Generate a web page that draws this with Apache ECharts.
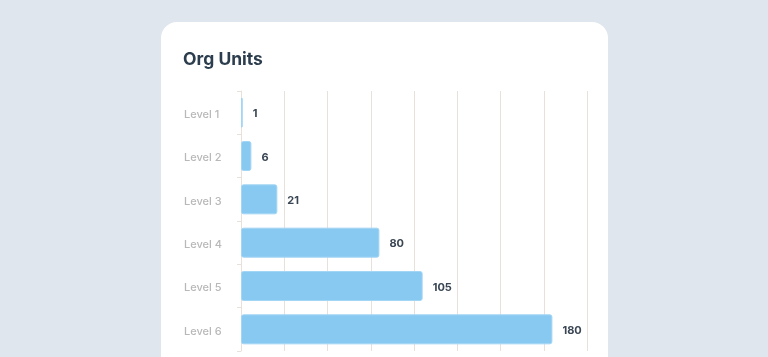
<!DOCTYPE html>
<html>
<head>
<meta charset="utf-8">
<script src="https://cdn.jsdelivr.net/npm/echarts@6/dist/echarts.min.js"></script>
<style>
  html, body { margin: 0; padding: 0; width: 768px; height: 357px; overflow: hidden; background: #dfe6ed; }
  #card { position: absolute; left: 161px; top: 22px; width: 447px; height: 360px; background: #ffffff; border-radius: 16px; }
  #chart { position: absolute; left: 0; top: 0; width: 447px; height: 345px; }
</style>
</head>
<body>
<div id="card"><div id="chart"></div></div>
<script>
const titleText = 'Org Units';
const categories = ['Level 1', 'Level 2', 'Level 3', 'Level 4', 'Level 5', 'Level 6'];
const values = [1, 6, 21, 80, 105, 180];
const xMin = 0, xMax = 200, xInterval = 25;

const chart = echarts.init(document.getElementById('chart'), null, { renderer: 'canvas' });
chart.setOption({
  animation: false,
  title: {
    text: titleText,
    left: 22, top: 29, padding: 0,
    textStyle: { fontFamily: 'Inter', fontSize: 17.5, fontWeight: 'bold', color: '#2c3d4d' }
  },
  grid: { left: 80, right: 21, top: 69, bottom: 16, containLabel: false },
  xAxis: {
    type: 'value', min: xMin, max: xMax, interval: xInterval,
    axisLabel: { show: false },
    axisLine: { show: false },
    axisTick: { show: false },
    splitLine: { show: true, lineStyle: { color: '#e8e0db', width: 1 } }
  },
  yAxis: {
    type: 'category', data: categories, inverse: true,
    axisLine: { show: true, lineStyle: { color: '#e8e0db', width: 1 } },
    axisTick: { show: true, length: 4, lineStyle: { color: '#e8e0db' } },
    axisLabel: {
      margin: 57, align: 'left',
      formatter: function (v) { return '{a|' + v + '}'; },
      rich: { a: { fontFamily: 'Inter', fontSize: 11, fontWeight: 500, color: '#b8b8b8', padding: [4, 0, 0, 0] } }
    }
  },
  series: [{
    type: 'bar', data: values, barWidth: 30,
    itemStyle: { color: '#88c9f2', borderRadius: 2, borderColor: '#a3d5f5', borderWidth: 1 },
    label: {
      show: true, position: 'right', distance: 10,
      formatter: function (p) { return '{b|' + p.value + '}'; },
      rich: { b: { fontFamily: 'Inter', fontSize: 11, fontWeight: 'bold', color: '#3a4654', padding: [3, 0, 0, 0] } }
    }
  }]
});
</script>
</body>
</html>
